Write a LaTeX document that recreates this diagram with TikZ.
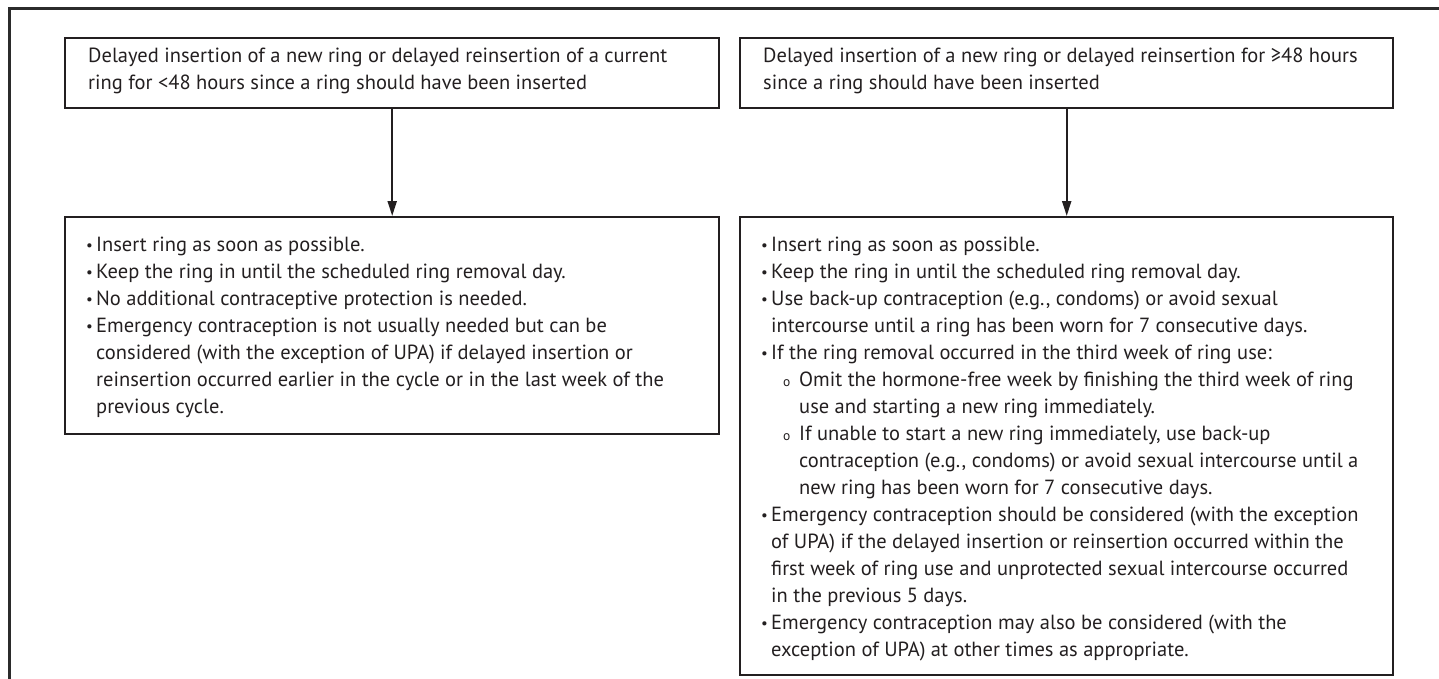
\documentclass[tikz,border=0pt]{standalone}
\usepackage{fontspec}
\setmainfont{PT Sans}
\usetikzlibrary{arrows.meta,calc}
\definecolor{ink}{HTML}{231F20}
\definecolor{framec}{HTML}{2B2B2B}
\newlength\reflen
\newcommand\bodyfont{\fontsize{\fsz pt}{27pt}\selectfont}
\newcommand\smallbul{\raisebox{0.3pt}{\fontsize{15pt}{15pt}\selectfont •}}
\newcommand\smallo{\fontsize{13.5pt}{13.5pt}\selectfont o}
\newcommand{\bl}[1]{\par\hangindent=10pt\hangafter=1\noindent\makebox[10pt][l]{\smallbul}#1}
\newcommand{\sbl}[1]{\par\hangindent=38pt\hangafter=1\noindent\hspace*{22pt}\makebox[16pt][l]{\smallo}#1}
\newcommand{\txtbox}[1]{\parbox[t]{700pt}{\hyphenpenalty=10000\parskip=0pt\parindent=0pt #1}}
\begin{document}
\settowidth\reflen{\fontsize{10pt}{12pt}\selectfont Delayed insertion of a new ring or delayed reinsertion of a current}%
\pgfmathsetmacro\fsz{10*579/\reflen}%
\begin{tikzpicture}[x=1pt,y=-1pt,
  box/.style={draw=ink, line width=2.4pt, anchor=north west, inner sep=0pt, fill=none},
  txt/.style={anchor=base west, inner sep=0pt, text=ink, font=\bodyfont},
  arr/.style={draw=ink, line width=2pt, -{Triangle[width=9pt,length=15pt]}},
  frame/.style={draw=framec, line width=3pt}]
\useasboundingbox (0,0) rectangle (1439,679);
% outer frame (cropped)
\draw[frame] (9,680) -- (9,9) -- (1440,9);
% boxes
\node[box, minimum width=654pt, minimum height=70pt] (ta) at (64,37) {};
\node[box, minimum width=653pt, minimum height=70pt] (tb) at (739,37) {};
\node[box, minimum width=654pt, minimum height=217pt] (ba) at (64,216) {};
\node[box, minimum width=653pt, minimum height=458pt] (bb) at (739,216) {};
% texts
\node[txt] (tat) at (88,63) {\txtbox{Delayed insertion of a new ring or delayed reinsertion of a current\\ring for <48 hours since a ring should have been inserted}};
\node[txt] (tbt) at (763,63) {\txtbox{Delayed insertion of a new ring or delayed reinsertion for ≥48 hours\\since a ring should have been inserted}};
\node[txt] (bat) at (86,251) {\txtbox{%
\bl{Insert ring as soon as possible.}
\bl{Keep the ring in until the scheduled ring removal day.}
\bl{No additional contraceptive protection is needed.}
\bl{Emergency contraception is not usually needed but can be\\considered (with the exception of UPA) if delayed insertion or\\reinsertion occurred earlier in the cycle or in the last week of the\\previous cycle.}}};
\node[txt] (bbt) at (761,251) {\txtbox{%
\bl{Insert ring as soon as possible.}
\bl{Keep the ring in until the scheduled ring removal day.}
\bl{Use back-up contraception (e.g., condoms) or avoid sexual\\intercourse until a ring has been worn for 7 consecutive days.}
\bl{If the ring removal occurred in the third week of ring use:}
\sbl{Omit the hormone-free week by finishing the third week of ring\\use and starting a new ring immediately.}
\sbl{If unable to start a new ring immediately, use back-up\\contraception (e.g., condoms) or avoid sexual intercourse until a\\new ring has been worn for 7 consecutive days.}
\bl{Emergency contraception should be considered (with the exception\\of UPA) if the delayed insertion or reinsertion occurred within the\\first week of ring use and unprotected sexual intercourse occurred\\in the previous 5 days.}
\bl{Emergency contraception may also be considered (with the\\exception of UPA) at other times as appropriate.}}};
% connectors
\draw[arr] (ta.south) -- (ba.north);
\draw[arr] (tb.south) -- (bb.north);
\end{tikzpicture}
\end{document}
